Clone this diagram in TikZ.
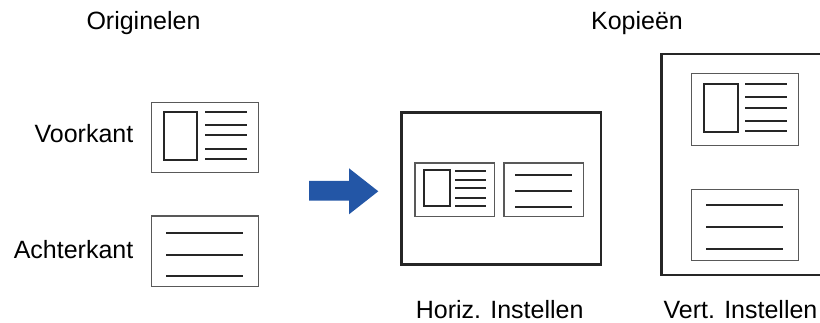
\documentclass[tikz,border=0pt]{standalone}
\usepackage{fontspec}
\setmainfont{Liberation Sans}
\definecolor{arrowblue}{HTML}{2356A6}
\begin{document}
\begin{tikzpicture}[x=1pt,y=-1pt,
    caption/.style={font=\fontsize{25}{30}\selectfont, inner sep=0pt},
    card/.style={draw=black!65, line width=1.1pt},
    page/.style={draw=black!85, line width=2.5pt},
    photo/.style={draw=black!85, line width=2pt},
    textline/.style={draw=black!85, line width=2pt}]
    \useasboundingbox (0,0) rectangle (820,323);

    % Titles
    \node[caption, anchor=base] (orig) at (143.5,30) {Originelen};
    \node[caption, anchor=base] (kopie) at (637,29.5) {Kopieën};

    % Front original
    \node[caption, anchor=base east] (voor) at (133.5,142.3) {Voorkant};
    \draw[card] (151.7,102.3) rectangle (258.3,172.7);
    \draw[photo] (163.7,112) rectangle (197.3,160);
    \foreach \y in {112.3,124.7,135,148.7,159.3}
        \draw[textline] (205,\y) -- (246.7,\y);

    % Back original
    \node[caption, anchor=base east] (achter) at (133.5,259) {Achterkant};
    \draw[card] (151.7,216) rectangle (258.3,286.7);
    \foreach \y in {233.3,254.7,276}
        \draw[textline] (166,\y) -- (242.7,\y);

    % Arrow
    \fill[arrowblue] (309,181) -- (349,181) -- (349,168.3) -- (378.3,191.3)
        -- (349,214.3) -- (349,200.7) -- (309,200.7) -- cycle;

    % Copy, side by side
    \draw[page] (401.3,112.3) rectangle (601,264.3);
    \draw[card] (415,163) rectangle (494.7,216.3);
    \draw[photo] (424,170.3) rectangle (449.7,206.3);
    \foreach \y in {171,180.3,188.3,197.7,206}
        \draw[textline] (455,\y) -- (485.7,\y);
    \draw[card] (504,163) rectangle (583.7,216.3);
    \foreach \y in {175,191,207.3}
        \draw[textline] (515,\y) -- (572.3,\y);
    \node[caption, anchor=base, text depth=0pt] (horiz) at (499.7,318.5) {Horiz. Instellen};

    % Copy, one above the other
    \draw[page] (661.7,54) rectangle (826,275);
    \draw[card] (691.3,73.7) rectangle (798.3,145.7);
    \draw[photo] (703.7,83.7) rectangle (737.7,131.7);
    \foreach \y in {84,96.7,107.7,120.7,130.7}
        \draw[textline] (745.3,\y) -- (786.7,\y);
    \draw[card] (691.3,189.3) rectangle (798.3,260.7);
    \foreach \y in {205.3,227,249}
        \draw[textline] (706,\y) -- (782.7,\y);
    \node[caption, anchor=base, text depth=0pt] (vert) at (740.5,318.5) {Vert. Instellen};
\end{tikzpicture}
\end{document}
